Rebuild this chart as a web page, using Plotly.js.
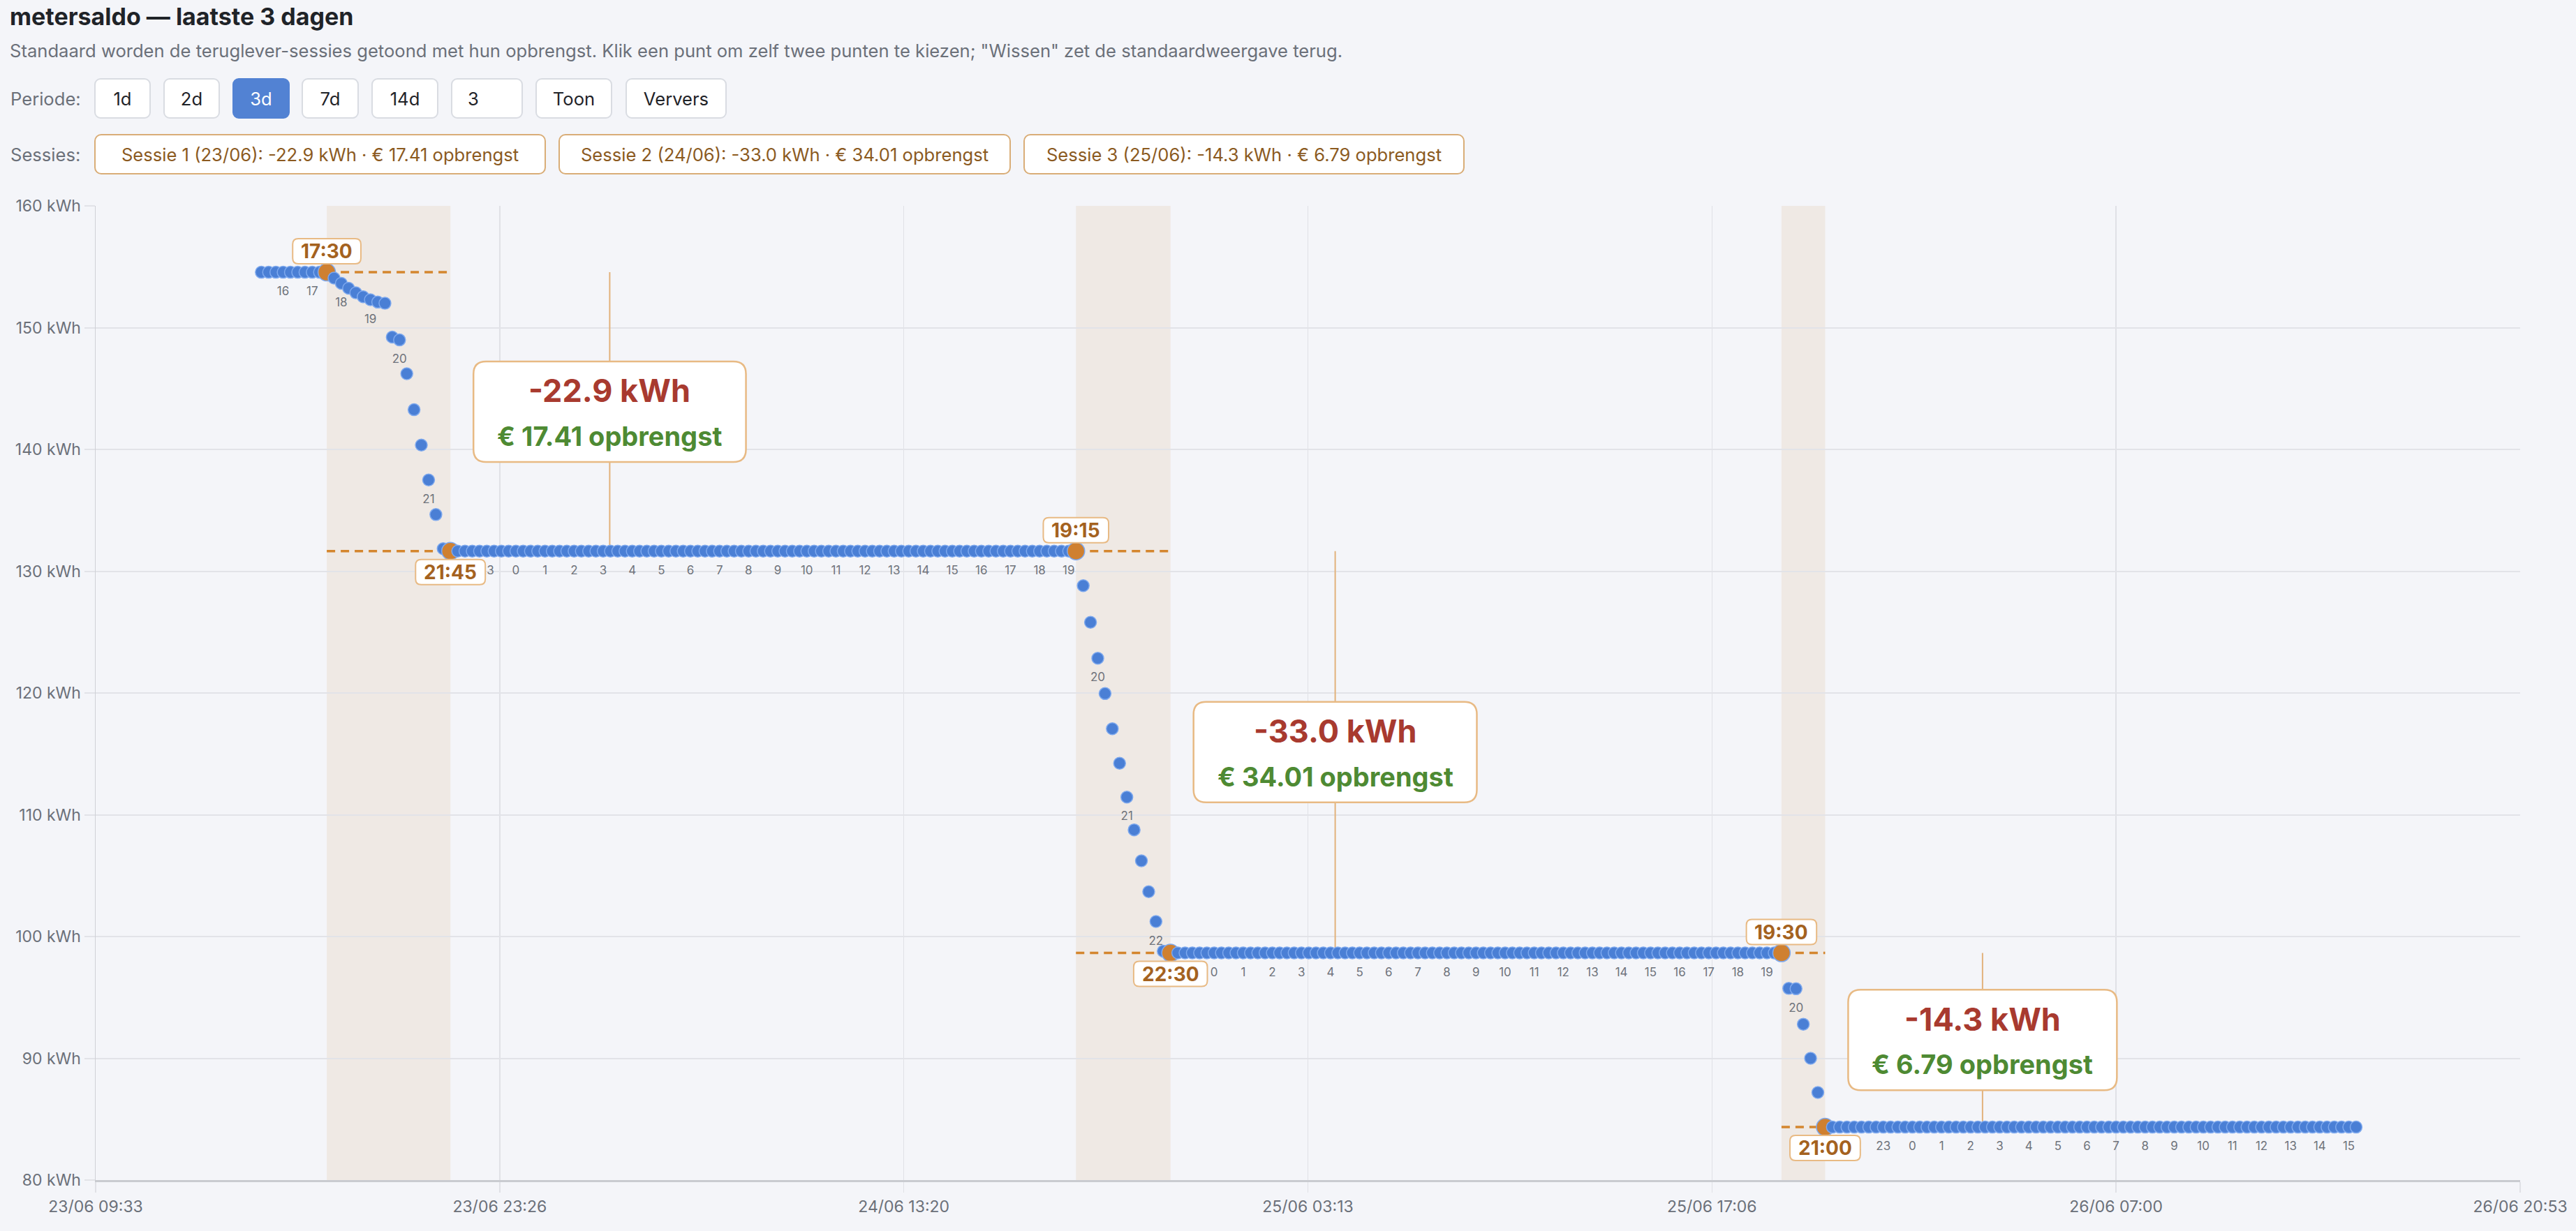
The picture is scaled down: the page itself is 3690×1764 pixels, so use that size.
<!DOCTYPE html>
<html>
<head>
<meta charset="utf-8">
<script src="https://cdn.plot.ly/plotly-3.0.1.min.js"></script>
<style>
  html, body { margin:0; padding:0; background:#f4f5f9; width:3690px; height:1764px; overflow:hidden;
    font-family: Inter, "Liberation Sans", sans-serif; }
  #title { position:absolute; left:14px; top:7px; font-size:34px; line-height:1; font-weight:700; color:#1f2328; white-space:nowrap; }
  #sub { position:absolute; left:14px; top:60px; font-size:25.6px; line-height:1; color:#6b7079; white-space:nowrap; }
  .lbl { position:absolute; left:15px; height:58px; display:flex; align-items:center; font-size:25.6px; color:#6b7079; }
  .btn { position:absolute; height:58px; box-sizing:border-box; border:2px solid #d9dce2; border-radius:9px; background:#fff;
    display:flex; align-items:center; justify-content:center; font-size:25.6px; color:#1f2328; }
  .btn.active { background:#5282d3; border-color:#5282d3; color:#fff; }
  .btn.input { justify-content:flex-start; padding-left:22px; }
  .chip { position:absolute; height:58px; box-sizing:border-box; border:2px solid #d9ad77; border-radius:10px; background:#fff;
    display:flex; align-items:center; justify-content:center; font-size:25.6px; color:#8b5a1f; white-space:nowrap; }
  #chart { position:absolute; left:0; top:260px; width:3690px; height:1504px; }
</style>
</head>
<body>
<div id="title">metersaldo — laatste 3 dagen</div>
<div id="sub">Standaard worden de teruglever-sessies getoond met hun opbrengst. Klik een punt om zelf twee punten te kiezen; "Wissen" zet de standaardweergave terug.</div>
<div class="lbl" style="top:112px">Periode:</div>
<div id="buttons"></div>
<div class="lbl" style="top:192px">Sessies:</div>
<div id="chips"></div>
<div id="chart"></div>
<script>
// ---------------- DATA ----------------
const periodButtons = ['1d', '2d', '3d', '7d', '14d', '3', 'Toon', 'Ververs'];
const activePeriod = '3d';

const startTime = '2025-06-23 15:15';   // first reading
const stepMinutes = 15;                  // reading interval

// meter balance (kWh), one reading per 15 minutes, 23/06 15:15 .. 26/06 15:15
const meterKWh = [
  154.55,154.55,154.55,154.55,154.55,154.55,154.55,154.55,154.55,154.55,
  154.07,153.64,153.24,152.86,152.54,152.29,152.10,152.00,149.23,148.99,
  146.22,143.26,140.36,137.49,134.65,131.85,
  131.65,131.65,131.65,131.65,131.65,131.65,131.65,131.65,131.65,131.65,
  131.65,131.65,131.65,131.65,131.65,131.65,131.65,131.65,131.65,131.65,
  131.65,131.65,131.65,131.65,131.65,131.65,131.65,131.65,131.65,131.65,
  131.65,131.65,131.65,131.65,131.65,131.65,131.65,131.65,131.65,131.65,
  131.65,131.65,131.65,131.65,131.65,131.65,131.65,131.65,131.65,131.65,
  131.65,131.65,131.65,131.65,131.65,131.65,131.65,131.65,131.65,131.65,
  131.65,131.65,131.65,131.65,131.65,131.65,131.65,131.65,131.65,131.65,
  131.65,131.65,131.65,131.65,131.65,131.65,131.65,131.65,131.65,131.65,
  131.65,131.65,131.65,131.65,131.65,131.65,131.65,
  128.81,125.80,122.85,119.95,117.06,114.23,111.45,108.76,106.22,103.68,
  101.23,98.80,
  98.65,98.65,98.65,98.65,98.65,98.65,98.65,98.65,98.65,98.65,
  98.65,98.65,98.65,98.65,98.65,98.65,98.65,98.65,98.65,98.65,
  98.65,98.65,98.65,98.65,98.65,98.65,98.65,98.65,98.65,98.65,
  98.65,98.65,98.65,98.65,98.65,98.65,98.65,98.65,98.65,98.65,
  98.65,98.65,98.65,98.65,98.65,98.65,98.65,98.65,98.65,98.65,
  98.65,98.65,98.65,98.65,98.65,98.65,98.65,98.65,98.65,98.65,
  98.65,98.65,98.65,98.65,98.65,98.65,98.65,98.65,98.65,98.65,
  98.65,98.65,98.65,98.65,98.65,98.65,98.65,98.65,98.65,98.65,
  98.65,98.65,98.65,98.65,98.65,
  95.74,95.71,92.80,90.00,87.19,
  84.35,84.35,84.35,84.35,84.35,84.35,84.35,84.35,84.35,84.35,
  84.35,84.35,84.35,84.35,84.35,84.35,84.35,84.35,84.35,84.35,
  84.35,84.35,84.35,84.35,84.35,84.35,84.35,84.35,84.35,84.35,
  84.35,84.35,84.35,84.35,84.35,84.35,84.35,84.35,84.35,84.35,
  84.35,84.35,84.35,84.35,84.35,84.35,84.35,84.35,84.35,84.35,
  84.35,84.35,84.35,84.35,84.35,84.35,84.35,84.35,84.35,84.35,
  84.35,84.35,84.35,84.35,84.35,84.35,84.35,84.35,84.35,84.35,
  84.35,84.35,84.35,84.35
];

const sessionStart = ['2025-06-23 17:30', '2025-06-24 19:15', '2025-06-25 19:30'];
const sessionEnd   = ['2025-06-23 21:45', '2025-06-24 22:30', '2025-06-25 21:00'];
const sessionKWh   = [-22.9, -33.0, -14.3];
const sessionEUR   = [17.41, 34.01, 6.79];

const xRange = ['2025-06-23 09:33:20', '2025-06-26 20:53:20'];
const xTickVals = ['2025-06-23 09:33:20', '2025-06-23 23:26:40', '2025-06-24 13:20:00',
                   '2025-06-25 03:13:20', '2025-06-25 17:06:40', '2025-06-26 07:00:00', '2025-06-26 20:53:20'];
const yRange = [80, 160];

// ---------------- HELPERS ----------------
function toMs(str) { return new Date(str.replace(' ', 'T') + ':00Z').getTime(); }
function addMin(str, m) {
  const d = new Date(toMs(str) + m * 60000);
  return d.toISOString().slice(0, 16).replace('T', ' ');
}
const times = meterKWh.map((_, i) => addMin(startTime, i * stepMinutes));
const valAt = t => meterKWh[times.indexOf(t)];

const FONT = 'Inter, "Liberation Sans", sans-serif';
const ctx = document.createElement('canvas').getContext('2d');
function textW(txt, size, weight) { ctx.font = weight + ' ' + size + 'px Inter'; return ctx.measureText(txt).width; }

// ---------------- HTML CONTROLS ----------------
const btnGeom = [[135,81],[234,81],[333,82],[432,82],[532,96],[646,103],[767,110],[896,145]];
const bWrap = document.getElementById('buttons');
periodButtons.forEach((b, i) => {
  const el = document.createElement('div');
  el.className = 'btn' + (b === activePeriod ? ' active' : '') + (b === '3' ? ' input' : '');
  el.style.left = btnGeom[i][0] + 'px'; el.style.top = '112px'; el.style.width = btnGeom[i][1] + 'px';
  el.textContent = b;
  bWrap.appendChild(el);
});
const chipGeom = [[135,647],[800,648],[1466,632]];
const cWrap = document.getElementById('chips');
sessionStart.forEach((s, i) => {
  const el = document.createElement('div');
  el.className = 'chip';
  el.style.left = chipGeom[i][0] + 'px'; el.style.top = '192px'; el.style.width = chipGeom[i][1] + 'px';
  const dd = s.slice(8, 10), mm = s.slice(5, 7);
  el.textContent = 'Sessie ' + (i + 1) + ' (' + dd + '/' + mm + '): ' + sessionKWh[i].toFixed(1) + ' kWh · € ' + sessionEUR[i].toFixed(2) + ' opbrengst';
  cWrap.appendChild(el);
});

// ---------------- CHART ----------------
const BLUE = '#4a7fd5', BLUE_LINE = '#7ea9ee', ORANGE = '#cf8030';
const highlight = new Set(sessionStart.concat(sessionEnd));
const mColors = times.map(t => highlight.has(t) ? ORANGE : BLUE);
const mSizes = times.map(t => highlight.has(t) ? 25 : 17);

// hour labels under each full-hour reading (the end-time box hides the ones in its first hour)
const hiddenByBox = t => sessionEnd.some(e => { const d = (toMs(t) - toMs(e)) / 60000; return d >= 0 && d < 60; });
const hourIdx = times.map((t, i) => (t.endsWith(':00') && !hiddenByBox(t)) ? i : -1).filter(i => i >= 0);
const hourLabels = {
  x: hourIdx.map(i => times[i]),
  y: hourIdx.map(i => meterKWh[i]),
  text: hourIdx.map(i => String(parseInt(times[i].slice(11, 13), 10))),
  mode: 'markers+text', type: 'scatter', textposition: 'bottom center',
  marker: { size: 31, opacity: 0 },
  textfont: { family: FONT, size: 17, color: '#6f737b' },
  hoverinfo: 'skip', showlegend: false, cliponaxis: false
};

const points = {
  x: times, y: meterKWh, mode: 'markers', type: 'scatter',
  marker: { color: mColors, size: mSizes, opacity: 1, line: { color: BLUE_LINE, width: 1.5 } },
  hoverinfo: 'skip', showlegend: false, cliponaxis: false
};

function rr(x0, y0, x1, y1, r) {
  return 'M' + (x0 + r) + ',' + y1 + ' L' + (x1 - r) + ',' + y1 + ' Q' + x1 + ',' + y1 + ' ' + x1 + ',' + (y1 - r) +
    ' L' + x1 + ',' + (y0 + r) + ' Q' + x1 + ',' + y0 + ' ' + (x1 - r) + ',' + y0 +
    ' L' + (x0 + r) + ',' + y0 + ' Q' + x0 + ',' + y0 + ' ' + x0 + ',' + (y0 + r) +
    ' L' + x0 + ',' + (y1 - r) + ' Q' + x0 + ',' + y1 + ' ' + (x0 + r) + ',' + y1 + ' Z';
}

const shapes = [], annotations = [];
const TIME_COL = '#a4621f', BOX_BORDER = '#e8ba84';
const timeFs = 28, bigFs1 = 45, bigFs2 = 38;

sessionStart.forEach((s, i) => {
  const e = sessionEnd[i];
  const vs = valAt(s), ve = valAt(e), vm = (vs + ve) / 2;
  // band
  shapes.push({ type: 'rect', layer: 'below', xref: 'x', yref: 'paper', x0: s, x1: e, y0: 0, y1: 1,
    fillcolor: '#efe9e4', line: { width: 0 } });
  // dashed level lines
  [vs, ve].forEach(v => shapes.push({ type: 'line', layer: 'between', xref: 'x', yref: 'y', x0: s, x1: e, y0: v, y1: v,
    line: { color: '#d4862e', width: 3.5, dash: '12px,8px' } }));
  // big label box
  const l1 = sessionKWh[i].toFixed(1) + ' kWh';
  const l2 = '€ ' + sessionEUR[i].toFixed(2) + ' opbrengst';
  const w = Math.max(textW(l1, bigFs1, 700), textW(l2, bigFs2, 700)) + 68;
  const gap = 33, cx = gap + w / 2;
  shapes.push({ type: 'line', layer: 'between', xref: 'x', yref: 'y', xsizemode: 'pixel', xanchor: e,
    x0: cx, x1: cx, y0: vs, y1: ve, line: { color: '#e2b27c', width: 2 } });
  shapes.push({ type: 'path', layer: 'above', xref: 'x', yref: 'y', xsizemode: 'pixel', ysizemode: 'pixel',
    xanchor: e, yanchor: vm, path: rr(gap, -72, gap + w, 72, 18),
    fillcolor: '#ffffff', line: { color: BOX_BORDER, width: 2.5 } });
  annotations.push({ x: e, y: vm, xref: 'x', yref: 'y', xshift: cx, yshift: 30, showarrow: false,
    text: '<b>' + l1 + '</b>', font: { family: FONT, size: bigFs1, color: '#a83a2f' } });
  annotations.push({ x: e, y: vm, xref: 'x', yref: 'y', xshift: cx, yshift: -35, showarrow: false,
    text: '<b>' + l2 + '</b>', font: { family: FONT, size: bigFs2, color: '#4e8a33' } });
  // time boxes
  [[s, vs, 1], [e, ve, -1]].forEach(([t, v, dir]) => {
    const lab = t.slice(11, 16);
    const tw = textW(lab, timeFs, 700) + 24;
    const y0 = dir > 0 ? 12 : -48, y1 = dir > 0 ? 48 : -12;
    shapes.push({ type: 'path', layer: 'above', xref: 'x', yref: 'y', xsizemode: 'pixel', ysizemode: 'pixel',
      xanchor: t, yanchor: v, path: rr(-tw / 2, y0, tw / 2, y1, 8),
      fillcolor: '#ffffff', line: { color: BOX_BORDER, width: 2 } });
    annotations.push({ x: t, y: v, xref: 'x', yref: 'y', yshift: dir * 30, showarrow: false,
      text: '<b>' + lab + '</b>', font: { family: FONT, size: timeFs, color: TIME_COL } });
  });
});

const layout = {
  width: 3690, height: 1504,
  margin: { l: 137, r: 80, t: 35, b: 73, pad: 0 },
  paper_bgcolor: '#f4f5f9', plot_bgcolor: '#f4f5f9',
  showlegend: false, hovermode: false,
  font: { family: FONT, color: '#6b7079' },
  xaxis: {
    type: 'date', range: xRange, tickvals: xTickVals, tickformat: '%d/%m %H:%M',
    showgrid: true, gridcolor: '#e0e1e6', gridwidth: 1.5,
    ticks: 'outside', ticklen: 15, tickwidth: 1.5, tickcolor: '#e0e1e6',
    showline: true, linecolor: '#c9cbd0', linewidth: 3, zeroline: false,
    tickfont: { family: FONT, size: 23, color: '#6b7079' }
  },
  yaxis: {
    range: yRange, tick0: 80, dtick: 10, ticksuffix: ' kWh',
    showgrid: true, gridcolor: '#e2e3e8', gridwidth: 2,
    ticks: 'outside', ticklen: 15, tickwidth: 2, tickcolor: '#e2e3e8',
    showline: true, linecolor: '#cfd1d6', linewidth: 1.5, zeroline: false,
    tickfont: { family: FONT, size: 23, color: '#6b7079' }
  },
  shapes: shapes,
  annotations: annotations
};

Plotly.newPlot('chart', [hourLabels, points], layout, { displayModeBar: false, staticPlot: true });
</script>
</body>
</html>
